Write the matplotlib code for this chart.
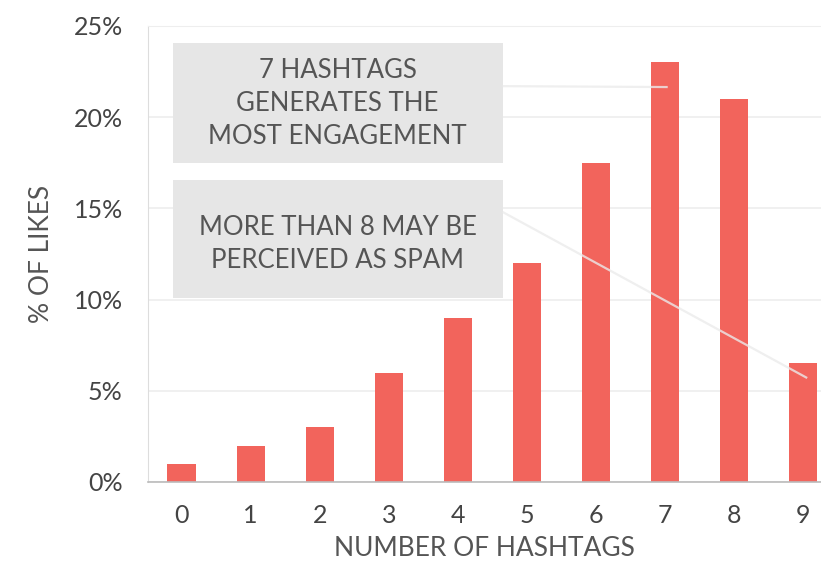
import matplotlib
matplotlib.use("Agg")
import matplotlib.pyplot as plt
from matplotlib.patches import Rectangle

plt.rcParams["font.family"] = ["Lato", "DejaVu Sans"]

hashtags = [0, 1, 2, 3, 4, 5, 6, 7, 8, 9]
likes_pct = [1.0, 2.0, 3.0, 6.0, 9.0, 12.0, 17.5, 23.0, 21.0, 6.5]
y_ticks = [0, 5, 10, 15, 20, 25]
y_tick_labels = ["0%", "5%", "10%", "15%", "20%", "25%"]
note_top = "7 HASHTAGS\nGENERATES THE\nMOST ENGAGEMENT"
note_bottom = "MORE THAN 8 MAY BE\nPERCEIVED AS SPAM"

bar_color = "#f2645c"
text_color = "#555555"
box_color = "#e6e6e6"

fig = plt.figure(figsize=(8.21, 5.64), dpi=100)
ax = fig.add_axes([0.180, 0.1454, 0.820, 0.8086])

ax.bar(hashtags, likes_pct, width=0.41, color=bar_color, zorder=2)

ax.set_xlim(-0.49, 9.26)
ax.set_ylim(0, 25)
ax.set_xticks(hashtags)
ax.set_xticklabels([str(h) for h in hashtags])
ax.set_yticks(y_ticks)
ax.set_yticklabels(y_tick_labels)
ax.tick_params(length=0, labelsize=18, colors="#444444")
ax.tick_params(axis="x", pad=16)
ax.tick_params(axis="y", pad=18)

ax.grid(axis="y", color="#eeeeee", linewidth=1.2, zorder=0)
ax.set_axisbelow(True)
ax.spines["right"].set_visible(False)
ax.spines["top"].set_color("#eeeeee")
ax.spines["left"].set_color("#dddddd")
ax.spines["bottom"].set_color("#bbbbbb")
ax.spines["bottom"].set_linewidth(1.2)

ax.set_xlabel("NUMBER OF HASHTAGS", fontsize=19, color=text_color, labelpad=6)
ax.set_ylabel("% OF LIKES", fontsize=19, color=text_color, labelpad=14)

# annotation boxes
box_x0, box_x1 = -0.13, 4.65
ax.add_patch(Rectangle((box_x0, 17.5), box_x1 - box_x0, 6.57,
                       facecolor=box_color, edgecolor="none", zorder=3))
ax.add_patch(Rectangle((box_x0, 10.1), box_x1 - box_x0, 6.46,
                       facecolor=box_color, edgecolor="none", zorder=3))
ax.text((box_x0 + box_x1) / 2, 20.75, note_top, ha="center", va="center",
        fontsize=18.5, color=text_color, linespacing=1.4, zorder=4)
ax.text((box_x0 + box_x1) / 2, 13.05, note_bottom, ha="center", va="center",
        fontsize=18.5, color=text_color, linespacing=1.4, zorder=4)

# leader lines
ax.plot([box_x1, 7.04], [21.7, likes_pct[7] - 1.35], color="#ebebeb",
        linewidth=1.6, alpha=0.8, zorder=3, solid_capstyle="butt")
ax.plot([box_x1, 9.06], [14.8, likes_pct[9] - 0.8], color="#ebebeb",
        linewidth=1.6, alpha=0.8, zorder=3, solid_capstyle="butt")

fig.savefig("out.png", dpi=100)
